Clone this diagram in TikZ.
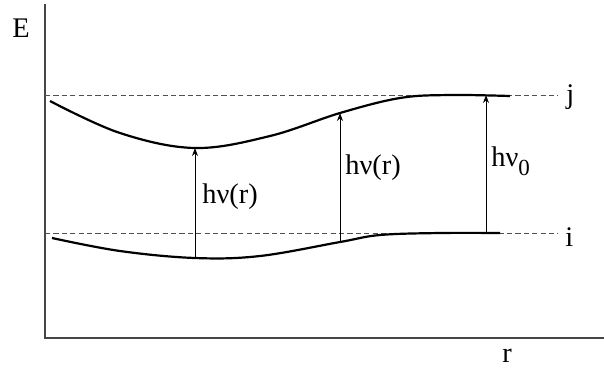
\documentclass[tikz,border=0pt]{standalone}
\usepackage{fontspec}
\setmainfont{Liberation Serif}
\usepackage{tikz}
\usetikzlibrary{arrows.meta, positioning, calc}
\definecolor{axisgray}{RGB}{70,70,70}
\definecolor{dashgray}{RGB}{80,80,80}
\tikzset{
  axisline/.style={draw=axisgray,line width=0.6pt},
  levelline/.style={draw=dashgray,line width=0.5pt,dash pattern=on 2.6pt off 1.6pt},
  curveline/.style={draw=black,line width=1.1pt,smooth,tension=0.6},
  transarr/.style={-{Stealth[length=4pt,width=3pt]},line width=0.45pt,color=black},
  axlabel/.style={font=\fontsize{14.2}{16}\selectfont,inner sep=0pt},
  translabel/.style={font=\fontsize{14.2}{16}\selectfont,inner sep=0pt,anchor=west}
}
\newcommand{\subzero}{\raisebox{-0.7ex}{\fontsize{11.5}{12}\selectfont 0}}

\begin{document}
\begin{tikzpicture}[x=0.5pt,y=-0.5pt]
  \useasboundingbox (0,0) rectangle (604,371);

  % axes
  \coordinate (orig) at (45,338);
  \coordinate (ytop) at (45,4);
  \coordinate (xend) at (604,338);
  \draw[axisline] (ytop) -- (orig) -- (xend);
  \node[axlabel] (elabel) at (21,28) {E};
  \node[axlabel] (rlabel) at (507,356) {r};

  % unperturbed levels
  \node[axlabel,anchor=west] (jlabel) at (566,97) {j};
  \node[axlabel,anchor=west] (ilabel) at (565,237) {i};
  \draw[levelline] (45,95) -- (558,95);
  \draw[levelline] (45,233) -- (558,233);

  % potential curves
  \draw[curveline] plot coordinates {(50,101) (120,133) (195,148) (270,136) (340,113) (400,98) (450,95) (510,96)};
  \draw[curveline] plot coordinates {(52,238) (120,251) (195,258) (260,256) (340,242) (380,235) (440,233) (500,233)};

  % transitions
  \coordinate (lowA) at (195,258); \coordinate (upA) at (195,148);
  \coordinate (lowB) at (340,242); \coordinate (upB) at (340,113);
  \coordinate (lowC) at (486,233); \coordinate (upC) at (486,95);
  \draw[transarr] (lowA) -- (upA);
  \draw[transarr] (lowB) -- (upB);
  \draw[transarr] (lowC) -- (upC);
  \node[translabel] (hvA) at (202,197) {hν(r)};
  \node[translabel] (hvB) at (345,168) {hν(r)};
  \node[translabel] (hvC) at (491,161) {hν\subzero};
\end{tikzpicture}
\end{document}
